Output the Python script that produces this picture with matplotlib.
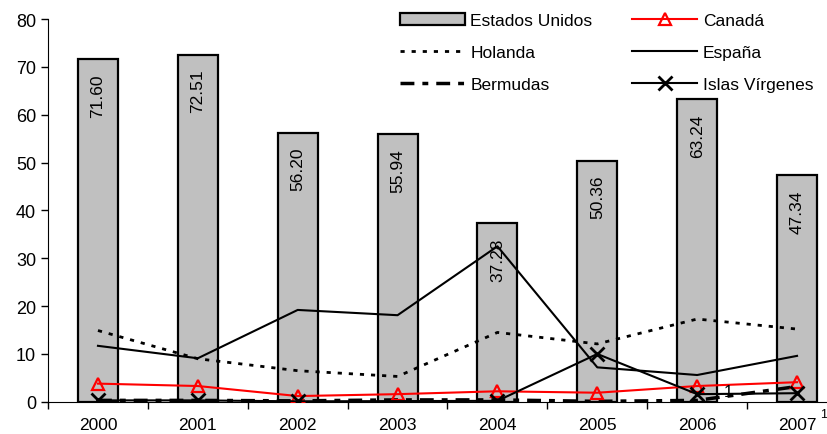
import numpy as np
import matplotlib
matplotlib.use("Agg")
import matplotlib.pyplot as plt

years = ["2000", "2001", "2002", "2003", "2004", "2005", "2006", "2007"]
estados_unidos = [71.60, 72.51, 56.20, 55.94, 37.28, 50.36, 63.24, 47.34]
canada = [3.8, 3.3, 1.2, 1.6, 2.2, 1.9, 3.3, 4.1]
holanda = [14.9, 9.0, 6.5, 5.3, 14.5, 12.1, 17.3, 15.2]
espana = [11.7, 9.1, 19.2, 18.1, 32.5, 7.2, 5.6, 9.6]
bermudas = [0.3, 0.3, 0.2, 0.4, 0.4, 0.1, 0.3, 3.2]
islas_virgenes = [0.3, 0.3, 0.1, np.nan, 0.2, 10.0, 1.6, 1.8]

plt.rcParams['font.family'] = ['Liberation Sans', 'DejaVu Sans']

fig = plt.figure(figsize=(8.28, 4.35), dpi=100)
ax = fig.add_axes([0.058, 0.074, 0.942, 0.88])

x = np.arange(len(years))
ax.bar(x, estados_unidos, width=0.4, color='#c0c0c0', edgecolor='black',
       linewidth=1.6, label='Estados Unidos', zorder=1)
for xi, v in zip(x, estados_unidos):
    ax.annotate(f"{v:.2f}", (xi, v), xytext=(0, -14), textcoords='offset pixels',
                rotation=90, ha='center', va='top', fontsize=12.5, zorder=2)

ax.plot(x, holanda, color='black', linestyle=(0, (1.5, 2.5)), linewidth=2, label='Holanda', zorder=2)
ax.plot(x, bermudas, color='black', linestyle=(0, (4.0, 2.3, 1.7, 2.3)), linewidth=2.5, label='Bermudas', zorder=2)
ax.plot(x, espana, color='black', linewidth=1.5, label='España', zorder=3)
ax.plot(x, canada, color='red', linewidth=1.5, marker='^', markersize=9,
        markerfacecolor='none', markeredgecolor='red', markeredgewidth=1.6, label='Canadá', zorder=4)
iv = np.array(islas_virgenes)
m = ~np.isnan(iv)
ax.plot(x[m], iv[m], color='black', linewidth=1.5, marker='x', markersize=10,
        markeredgewidth=2, label='Islas Vírgenes', zorder=4)

ax.text(6.31, 2.1, "1", fontsize=12, ha='center', va='center', zorder=5)

ax.set_ylim(0, 80)
ax.set_yticks(np.arange(0, 81, 10))
ax.set_xlim(-0.5, 7.31)
ax.set_xticks(x)
ax.set_xticklabels(years, fontsize=12.5)
ax.set_xticks(np.arange(-0.5, 7.5, 1), minor=True)
ax.tick_params(axis='x', which='major', length=0, pad=11)
ax.tick_params(axis='x', which='minor', length=5, direction='out', width=1)
ax.tick_params(axis='y', length=5, direction='out', labelsize=13, width=1)
ax.spines['top'].set_visible(False)
ax.spines['right'].set_visible(False)
ax.text(7.23, -2.6, "1", fontsize=9, ha='left', va='center', clip_on=False)

handles, labels = ax.get_legend_handles_labels()
hmap = dict(zip(labels, handles))
col1 = ['Estados Unidos', 'Holanda', 'Bermudas']
col2 = ['Canadá', 'España', 'Islas Vírgenes']
ordered = col1 + col2
leg = fig.legend([hmap[l] for l in ordered], ordered, ncol=2, loc='upper left',
                 bbox_to_anchor=(400 / 828, 1 - 14 / 435), frameon=False, fontsize=12.5,
                 handlelength=3.75, columnspacing=2.3, labelspacing=0.98,
                 handletextpad=0.3, borderpad=0, borderaxespad=0)

fig.savefig("out.png", dpi=100)
